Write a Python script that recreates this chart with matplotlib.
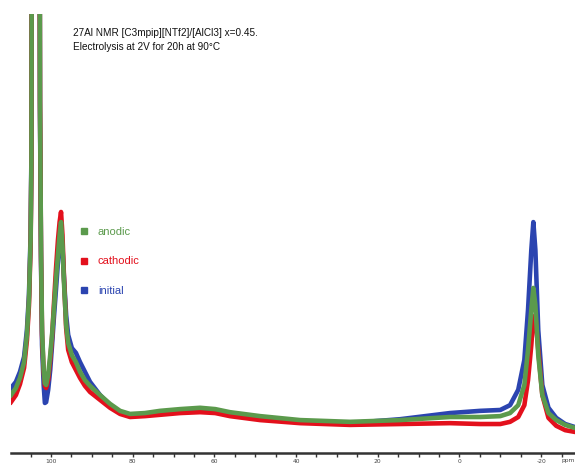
import matplotlib
matplotlib.use("Agg")
import matplotlib.pyplot as plt
from matplotlib.lines import Line2D
from matplotlib.ticker import MultipleLocator

# chemical shift grid (ppm)
ppm = [109.8, 108.6, 107.6, 106.6, 105.9, 105.4, 105.0, 104.8, 104.65, 104.3,
       103.6, 102.95, 102.7, 102.45, 102.2, 101.8, 101.5, 101.2, 100.7, 100.2,
       99.75, 99.3, 98.8, 98.3, 97.9, 97.55, 97.2, 96.8, 96.3, 95.8,
       94.9, 93.9, 92.9, 91.7, 90.45, 88.0, 85.55, 83.1, 80.65, 77.0,
       73.3, 68.4, 63.5, 59.8, 56.2, 48.8, 39.0, 26.8, 14.5, 2.3,
       -5.1, -10.0, -12.4, -14.4, -15.9, -16.8, -17.6, -18.1, -18.6, -19.3,
       -20.3, -21.8, -23.7, -25.9, -28.3]

# intensities (arbitrary units)
initial = [14.8, 16.2, 18.5, 21.9, 28.0, 36.0, 49.7, 67.9, 175, 140,
           155, 215, 78.1, 44.0, 24.6, 15.5, 11.4, 11.6, 14.4, 18.9,
           24.6, 30.8, 37.1, 43.5, 48.1, 50.3, 46.7, 39.4, 31.4, 26.9,
           23.9, 22.8, 20.7, 18.5, 16.2, 13.2, 10.9, 9.3, 8.7, 8.9,
           9.3, 9.8, 10.0, 9.8, 9.1, 8.0, 7.1, 6.8, 7.7, 9.1,
           9.6, 9.8, 10.9, 14.4, 21.2, 32.6, 46.2, 52.6, 46.2, 28.0,
           15.5, 10.3, 8.0, 6.6, 5.9]

cathodic = [11.6, 13.2, 15.7, 19.4, 25.7, 33.7, 47.4, 65.6, 185, 140,
            150, 205, 80.4, 45.1, 26.9, 18.5, 15.3, 14.8, 16.6, 21.2,
            26.2, 33.7, 41.7, 48.5, 52.6, 54.9, 49.7, 39.4, 28.5, 23.5,
            20.7, 18.9, 17.1, 15.3, 13.9, 12.1, 10.3, 8.9, 8.2, 8.4,
            8.7, 9.1, 9.3, 9.1, 8.4, 7.5, 6.8, 6.4, 6.6, 6.8,
            6.6, 6.6, 7.1, 8.2, 10.9, 16.6, 24.6, 30.8, 31.4, 23.5,
            13.2, 8.0, 6.2, 5.2, 4.8]

anodic = [13.2, 14.8, 17.1, 20.7, 26.9, 34.9, 48.5, 66.7, 170, 135,
          150, 210, 80.4, 46.2, 28.0, 18.9, 15.9, 15.5, 17.8, 22.3,
          26.9, 32.6, 39.4, 45.1, 49.7, 52.6, 47.4, 38.3, 29.2, 25.1,
          22.3, 20.7, 18.5, 16.6, 15.3, 13.2, 11.2, 9.6, 8.9, 9.1,
          9.6, 10.0, 10.3, 10.0, 9.3, 8.4, 7.5, 7.1, 7.5, 8.2,
          8.2, 8.4, 9.1, 10.9, 15.5, 23.5, 32.6, 37.6, 33.7, 22.3,
          13.2, 9.1, 7.5, 6.4, 5.7]

labels = ["anodic", "cathodic", "initial"]
colors = {"anodic": "#5b9a4c", "cathodic": "#e3101c", "initial": "#2b44b0"}
major_ticks = [100, 80, 60, 40, 20, 0, -20]

fig = plt.figure(figsize=(5.75, 4.65), dpi=100)
ax = fig.add_axes([11/575, 12/465, 564/575, 439/465])

ax.plot(ppm, initial, color=colors["initial"], lw=3.3)
ax.plot(ppm, cathodic, color=colors["cathodic"], lw=3.3)
ax.plot(ppm, anodic, color=colors["anodic"], lw=3.3)

ax.set_xlim(109.8, -28.3)
ax.set_ylim(0, 100)
ax.set_yticks([])
for s in ["left", "right", "top"]:
    ax.spines[s].set_visible(False)
ax.spines["bottom"].set_linewidth(1.8)
ax.spines["bottom"].set_color("#333333")
ax.set_xticks(major_ticks)
ax.set_xticklabels([str(t) for t in major_ticks])
ax.xaxis.set_minor_locator(MultipleLocator(5))
ax.tick_params(axis="x", which="both", direction="out", length=3, width=1,
               color="#333333", labelsize=4.3, labelcolor="#444444", pad=1)
ax.annotate("ppm", xy=(1, 0), xycoords="axes fraction", xytext=(-5, -3.5),
            textcoords="offset points", fontsize=4.3, color="#444444",
            ha="center", va="top")

# title block
fig.text(73/575, 1 - 40/465,
         "27Al NMR [C3mpip][NTf2]/[AlCl3] x=0.45.\nElectrolysis at 2V for 20h at 90°C",
         fontsize=7.2, family="Liberation Sans", va="center", ha="left",
         linespacing=1.55, color="#111111")

handles = [Line2D([], [], ls="", marker="s", ms=5, color=colors[k]) for k in labels]
leg = ax.legend(handles, labels, loc="upper left", frameon=False,
                bbox_to_anchor=(70/575, 1 - 217/465), bbox_transform=fig.transFigure,
                prop={"family": "Liberation Sans", "size": 8},
                labelspacing=1.75, handlelength=0.8, handletextpad=0.8,
                labelcolor="markerfacecolor")

fig.savefig("out.png", dpi=100)
